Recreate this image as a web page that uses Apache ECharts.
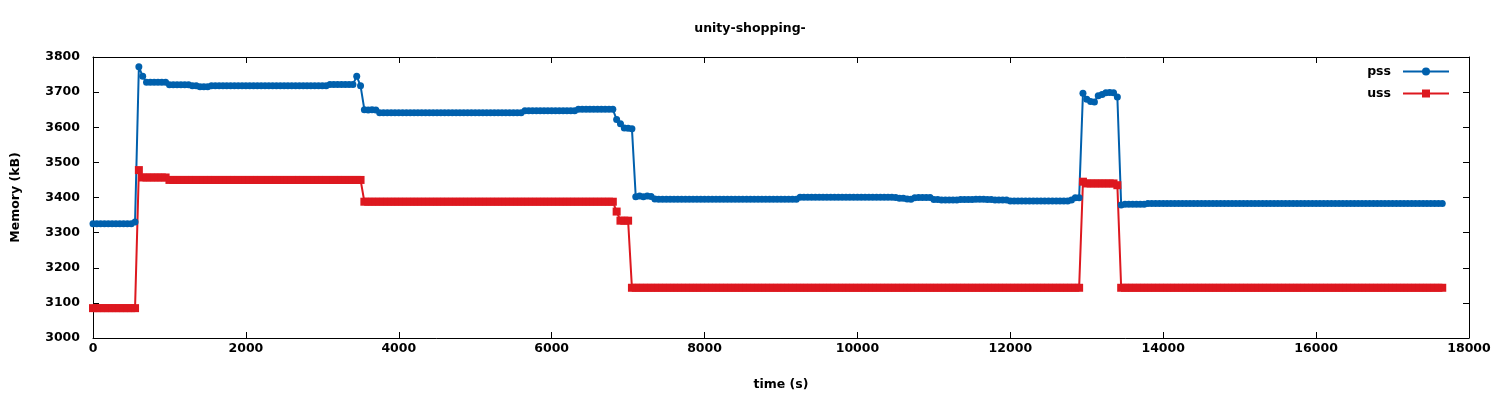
<!DOCTYPE html>
<html>
<head>
<meta charset="utf-8">
<script src="https://cdn.jsdelivr.net/npm/echarts/dist/echarts.min.js"></script>
<style>
html,body{margin:0;padding:0;background:#fff;}
#chart{width:1500px;height:400px;}
</style>
</head>
<body>
<div id="chart"></div>
<script>
// time (s)
const times = [
0,50,100,150,200,250,300,350,400,450,
500,550,600,650,700,750,800,850,900,950,
1000,1050,1100,1150,1200,1250,1300,1350,1400,1450,
1500,1550,1600,1650,1700,1750,1800,1850,1900,1950,
2000,2050,2100,2150,2200,2250,2300,2350,2400,2450,
2500,2550,2600,2650,2700,2750,2800,2850,2900,2950,
3000,3050,3100,3150,3200,3250,3300,3350,3400,3450,
3500,3550,3600,3650,3700,3750,3800,3850,3900,3950,
4000,4050,4100,4150,4200,4250,4300,4350,4400,4450,
4500,4550,4600,4650,4700,4750,4800,4850,4900,4950,
5000,5050,5100,5150,5200,5250,5300,5350,5400,5450,
5500,5550,5600,5650,5700,5750,5800,5850,5900,5950,
6000,6050,6100,6150,6200,6250,6300,6350,6400,6450,
6500,6550,6600,6650,6700,6750,6800,6850,6900,6950,
7000,7050,7100,7150,7200,7250,7300,7350,7400,7450,
7500,7550,7600,7650,7700,7750,7800,7850,7900,7950,
8000,8050,8100,8150,8200,8250,8300,8350,8400,8450,
8500,8550,8600,8650,8700,8750,8800,8850,8900,8950,
9000,9050,9100,9150,9200,9250,9300,9350,9400,9450,
9500,9550,9600,9650,9700,9750,9800,9850,9900,9950,
10000,10050,10100,10150,10200,10250,10300,10350,10400,10450,
10500,10550,10600,10650,10700,10750,10800,10850,10900,10950,
11000,11050,11100,11150,11200,11250,11300,11350,11400,11450,
11500,11550,11600,11650,11700,11750,11800,11850,11900,11950,
12000,12050,12100,12150,12200,12250,12300,12350,12400,12450,
12500,12550,12600,12650,12700,12750,12800,12850,12900,12950,
13000,13050,13100,13150,13200,13250,13300,13350,13400,13450,
13500,13550,13600,13650,13700,13750,13800,13850,13900,13950,
14000,14050,14100,14150,14200,14250,14300,14350,14400,14450,
14500,14550,14600,14650,14700,14750,14800,14850,14900,14950,
15000,15050,15100,15150,15200,15250,15300,15350,15400,15450,
15500,15550,15600,15650,15700,15750,15800,15850,15900,15950,
16000,16050,16100,16150,16200,16250,16300,16350,16400,16450,
16500,16550,16600,16650,16700,16750,16800,16850,16900,16950,
17000,17050,17100,17150,17200,17250,17300,17350,17400,17450,
17500,17550,17600,17650
];

// pss (kB)
const pss = [
3325,3325,3325,3325,3325,3325,3325,3325,3325,3325,
3325,3330,3772,3745,3728,3728,3728,3728,3728,3728,
3721,3721,3721,3721,3721,3721,3718,3718,3715,3715,
3715,3718,3718,3718,3718,3718,3718,3718,3718,3718,
3718,3718,3718,3718,3718,3718,3718,3718,3718,3718,
3718,3718,3718,3718,3718,3718,3718,3718,3718,3718,
3718,3718,3722,3722,3722,3722,3722,3722,3722,3745,
3718,3650,3649,3650,3649,3641,3641,3641,3641,3641,
3641,3641,3641,3641,3641,3641,3641,3641,3641,3641,
3641,3641,3641,3641,3641,3641,3641,3641,3641,3641,
3641,3641,3641,3641,3641,3641,3641,3641,3641,3641,
3641,3641,3641,3647,3647,3647,3647,3647,3647,3647,
3647,3647,3647,3647,3647,3647,3647,3651,3651,3651,
3651,3651,3651,3651,3651,3651,3651,3622,3610,3598,
3597,3596,3402,3404,3402,3404,3403,3396,3395,3395,
3395,3395,3395,3395,3395,3395,3395,3395,3395,3395,
3395,3395,3395,3395,3395,3395,3395,3395,3395,3395,
3395,3395,3395,3395,3395,3395,3395,3395,3395,3395,
3395,3395,3395,3395,3395,3401,3401,3401,3401,3401,
3401,3401,3401,3401,3401,3401,3401,3401,3401,3401,
3401,3401,3401,3401,3401,3401,3401,3401,3401,3401,
3400,3398,3398,3396,3395,3399,3400,3400,3400,3400,
3394,3394,3393,3393,3393,3393,3393,3394,3394,3394,
3394,3395,3395,3395,3394,3394,3393,3393,3393,3393,
3390,3390,3390,3390,3390,3390,3390,3390,3390,3390,
3390,3390,3390,3390,3390,3390,3393,3399,3399,3697,
3680,3673,3672,3690,3693,3698,3699,3698,3686,3379,
3381,3381,3381,3381,3381,3381,3383,3383,3383,3383,
3383,3383,3383,3383,3383,3383,3383,3383,3383,3383,
3383,3383,3383,3383,3383,3383,3383,3383,3383,3383,
3383,3383,3383,3383,3383,3383,3383,3383,3383,3383,
3383,3383,3383,3383,3383,3383,3383,3383,3383,3383,
3383,3383,3383,3383,3383,3383,3383,3383,3383,3383,
3383,3383,3383,3383,3383,3383,3383,3383,3383,3383,
3383,3383,3383,3383,3383,3383,3383,3383,3383,3383,
3383,3383,3383,3383
];

// uss (kB)
const uss = [
3085,3085,3085,3085,3085,3085,3085,3085,3085,3085,
3085,3085,3478,3457,3457,3457,3457,3457,3457,3457,
3450,3450,3450,3450,3450,3450,3450,3450,3450,3450,
3450,3450,3450,3450,3450,3450,3450,3450,3450,3450,
3450,3450,3450,3450,3450,3450,3450,3450,3450,3450,
3450,3450,3450,3450,3450,3450,3450,3450,3450,3450,
3450,3450,3450,3450,3450,3450,3450,3450,3450,3450,
3450,3388,3388,3388,3388,3388,3388,3388,3388,3388,
3388,3388,3388,3388,3388,3388,3388,3388,3388,3388,
3388,3388,3388,3388,3388,3388,3388,3388,3388,3388,
3388,3388,3388,3388,3388,3388,3388,3388,3388,3388,
3388,3388,3388,3388,3388,3388,3388,3388,3388,3388,
3388,3388,3388,3388,3388,3388,3388,3388,3388,3388,
3388,3388,3388,3388,3388,3388,3388,3360,3334,3334,
3334,3143,3143,3143,3143,3143,3143,3143,3143,3143,
3143,3143,3143,3143,3143,3143,3143,3143,3143,3143,
3143,3143,3143,3143,3143,3143,3143,3143,3143,3143,
3143,3143,3143,3143,3143,3143,3143,3143,3143,3143,
3143,3143,3143,3143,3143,3143,3143,3143,3143,3143,
3143,3143,3143,3143,3143,3143,3143,3143,3143,3143,
3143,3143,3143,3143,3143,3143,3143,3143,3143,3143,
3143,3143,3143,3143,3143,3143,3143,3143,3143,3143,
3143,3143,3143,3143,3143,3143,3143,3143,3143,3143,
3143,3143,3143,3143,3143,3143,3143,3143,3143,3143,
3143,3143,3143,3143,3143,3143,3143,3143,3143,3143,
3143,3143,3143,3143,3143,3143,3143,3143,3143,3445,
3440,3440,3440,3440,3440,3440,3440,3440,3435,3143,
3143,3143,3143,3143,3143,3143,3143,3143,3143,3143,
3143,3143,3143,3143,3143,3143,3143,3143,3143,3143,
3143,3143,3143,3143,3143,3143,3143,3143,3143,3143,
3143,3143,3143,3143,3143,3143,3143,3143,3143,3143,
3143,3143,3143,3143,3143,3143,3143,3143,3143,3143,
3143,3143,3143,3143,3143,3143,3143,3143,3143,3143,
3143,3143,3143,3143,3143,3143,3143,3143,3143,3143,
3143,3143,3143,3143,3143,3143,3143,3143,3143,3143,
3143,3143,3143,3143
];

const xTicks = { min: 0, max: 18000, interval: 2000 };
const yTicks = { min: 3000, max: 3800, interval: 100 };

const FONT = 'DejaVu Sans';
const labelStyle = { color: '#000', fontSize: 12.5, fontWeight: 'bold', fontFamily: FONT };
const plain = v => String(v);

function zip(xs, ys) { return xs.map((x, i) => [x, ys[i]]); }

const chart = echarts.init(document.getElementById('chart'), null, { renderer: 'canvas' });
const axisLine = { show: true, onZero: false, lineStyle: { color: '#000', width: 1 } };
const tick = { show: true, inside: true, length: 6, lineStyle: { color: '#000', width: 1 } };

chart.setOption({
  animation: false,
  backgroundColor: '#fff',
  textStyle: { fontFamily: FONT },
  title: {
    text: 'unity-shopping-', left: 'center', top: 17,
    textStyle: { color: '#000', fontSize: 12.5, fontWeight: 'bold', fontFamily: FONT }
  },
  legend: {
    data: ['pss', 'uss'],
    orient: 'vertical', right: 50, top: 65, padding: 0,
    align: 'right', itemWidth: 46, itemHeight: 10, itemGap: 9,
    textStyle: Object.assign({ padding: [0, 7, 0, 0] }, labelStyle)
  },
  grid: { left: 93, right: 31, top: 57, bottom: 62, show: false },
  xAxis: [
    Object.assign({
      type: 'value', position: 'bottom',
      name: 'time (s)', nameLocation: 'middle', nameGap: 40,
      nameTextStyle: labelStyle,
      axisLine: axisLine, axisTick: tick,
      axisLabel: Object.assign({ margin: 4, formatter: plain }, labelStyle),
      splitLine: { show: false }
    }, xTicks),
    Object.assign({
      type: 'value', position: 'top',
      axisLine: axisLine, axisTick: tick,
      axisLabel: { show: false }, splitLine: { show: false }
    }, xTicks)
  ],
  yAxis: [
    Object.assign({
      type: 'value', position: 'left',
      name: 'Memory (kB)', nameLocation: 'middle', nameGap: 71, nameRotate: 90,
      nameTextStyle: labelStyle,
      axisLine: axisLine, axisTick: tick,
      axisLabel: Object.assign({ margin: 13, formatter: plain }, labelStyle),
      splitLine: { show: false }
    }, yTicks),
    Object.assign({
      type: 'value', position: 'right',
      axisLine: axisLine, axisTick: tick,
      axisLabel: { show: false }, splitLine: { show: false }
    }, yTicks)
  ],
  series: [
    {
      name: 'pss', type: 'line', xAxisIndex: 0, yAxisIndex: 0,
      data: zip(times, pss),
      symbol: 'circle', symbolSize: 7, showAllSymbol: true, clip: false,
      lineStyle: { color: '#0060ad', width: 2 },
      itemStyle: { color: '#0060ad' },
      emphasis: { disabled: true }
    },
    {
      name: 'uss', type: 'line', xAxisIndex: 0, yAxisIndex: 0,
      data: zip(times, uss),
      symbol: 'rect', symbolSize: 8, showAllSymbol: true, clip: false,
      lineStyle: { color: '#dd181f', width: 2 },
      itemStyle: { color: '#dd181f' },
      emphasis: { disabled: true }
    }
  ]
});
</script>
</body>
</html>
